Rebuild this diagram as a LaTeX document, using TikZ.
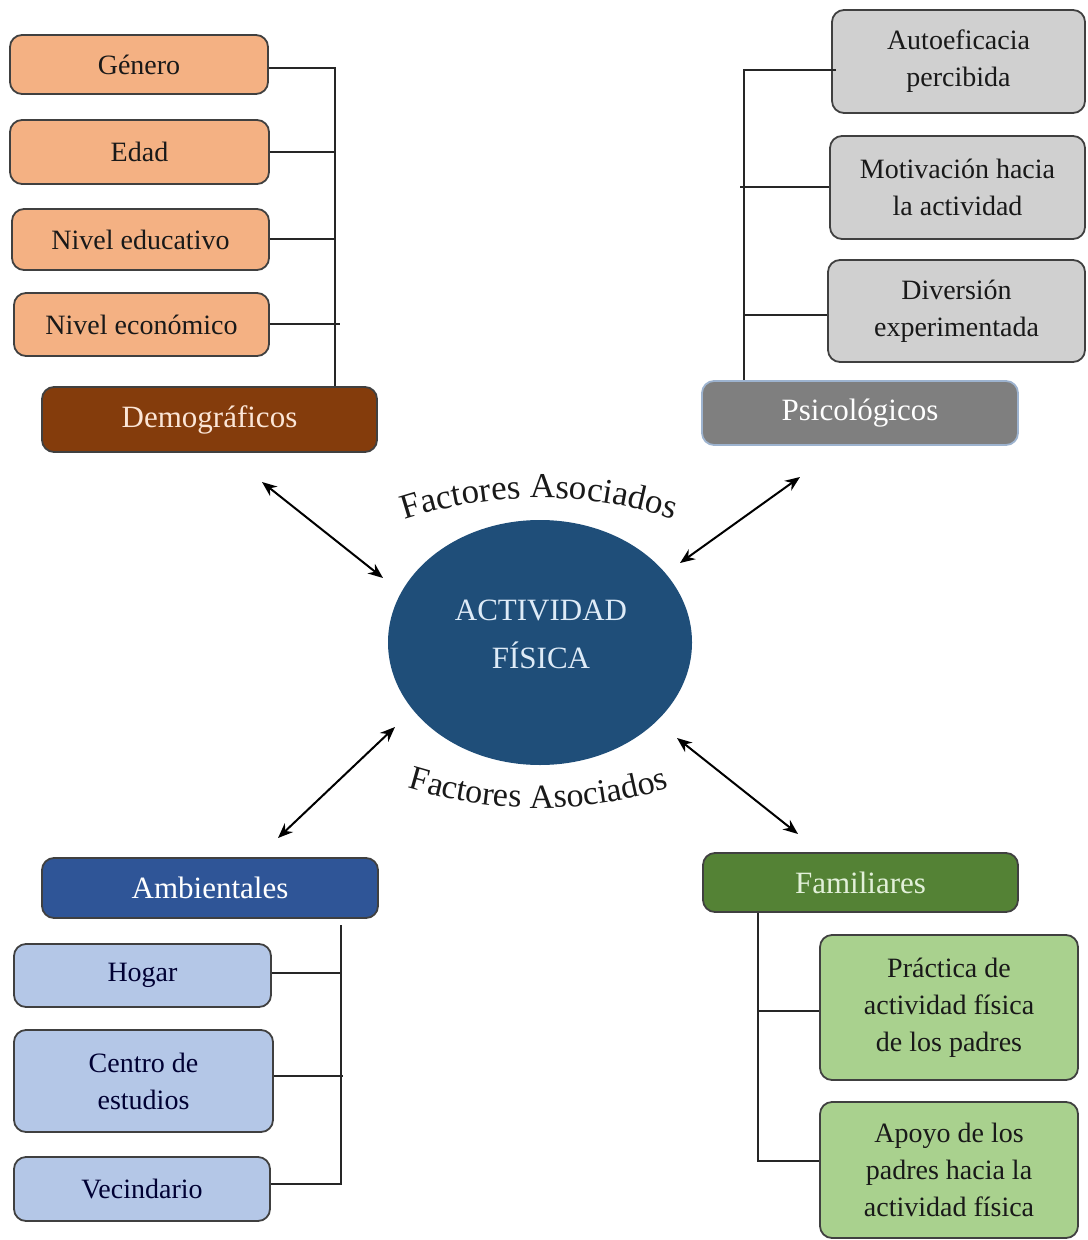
\documentclass[tikz,border=0pt]{standalone}
\usepackage{fontspec}
\setmainfont{Liberation Serif}
\usetikzlibrary{arrows.meta,decorations.text,shapes.geometric}
\definecolor{demoL}{HTML}{F4B183}
\definecolor{demoD}{HTML}{843C0C}
\definecolor{demoT}{HTML}{FBE5D6}
\definecolor{psiL}{HTML}{D0D0D0}
\definecolor{psiD}{HTML}{7F7F7F}
\definecolor{psiB}{HTML}{9DB3CF}
\definecolor{ambD}{HTML}{2F5597}
\definecolor{ambL}{HTML}{B4C7E7}
\definecolor{famD}{HTML}{548235}
\definecolor{famL}{HTML}{A9D18E}
\definecolor{famT}{HTML}{E2F0D9}
\definecolor{core}{HTML}{1F4E79}
\definecolor{coreT}{HTML}{DEEBF7}
\begin{document}
\begin{tikzpicture}[x=0.5pt,y=-0.5pt,
  sz/.style 2 args={minimum width=#1*0.5pt, minimum height=#2*0.5pt},
  box/.style={draw=black!75, line width=0.9pt, rounded corners=6pt, align=center,
    inner sep=0pt, font=\fontsize{14}{18.5}\selectfont, text=black!90},
  head/.style={box, font=\fontsize{15.5}{19}\selectfont},
  link/.style={line width=1pt, draw=black!85},
  rel/.style={line width=1pt, {Stealth[length=7.5pt,width=6pt]}-{Stealth[length=7.5pt,width=6pt]}}
]
\useasboundingbox (0,0) rectangle (1087,1240);

% --- Demographic factors
\node[box, fill=demoL, sz={258}{59}] (gen) at (139,64.5) {Género};
\node[box, fill=demoL, sz={259}{64}] (eda) at (139.5,152) {Edad};
\node[box, fill=demoL, sz={257}{61}] (edu) at (140.5,239.5) {Nivel educativo};
\node[box, fill=demoL, sz={255}{63}] (eco) at (141.5,324.5) {Nivel económico};
\node[head, fill=demoD, text=demoT, sz={335}{65}] (dem) at (209.5,419.5) {Demográficos};

\coordinate (dj) at (335,68);
\draw[link] (gen.east |- dj) -- (dj) -- (dj |- dem.north);
\draw[link] (eda.east) -- (eda.east -| dj);
\draw[link] (edu.east) -- (edu.east -| dj);
\draw[link] (eco.east) -- ([xshift=2.5pt]eco.east -| dj);

% --- Psychological factors
\node[box, fill=psiL, sz={253}{103}] (auto) at (958.5,61.5) {Autoeficacia\\percibida};
\node[box, fill=psiL, sz={255}{103}] (mot) at (957.5,187.5) {Motivación hacia\\la actividad};
\node[box, fill=psiL, sz={257}{102}] (div) at (956.5,311) {Diversión\\experimentada};
\node[head, fill=psiD, draw=psiB, text=white!95, sz={316}{64}] (psi) at (860,413) {Psicológicos};

\coordinate (pj) at (744,70);
\draw[link] ([xshift=2.5pt]auto.west |- pj) -- (pj) -- (pj |- psi.north);
\draw[link] (mot.west) -- ([xshift=-2pt]mot.west -| pj);
\draw[link] ([yshift=-2pt]div.west) -- ([yshift=-2pt]div.west -| pj);

% --- Central concept
\node[ellipse, fill=core, sz={304}{245}] (af) at (540,642.5) {};
\node[align=center, text=coreT, font=\fontsize{15.5}{24}\selectfont] (aft) at (541,634) {ACTIVIDAD\\FÍSICA};

\path[decorate, decoration={text along path, text align=center,
  text={|\fontsize{17.5}{20}\selectfont\color{black!90}|Factores Asociados}}]
  (398,522) .. controls (490,490) and (590,490) .. (680,522);
\path[decorate, decoration={text along path, text align=center,
  text={|\fontsize{17}{20}\selectfont\color{black!90}|Factores Asociados}}]
  (405,787) .. controls (495,815) and (585,815) .. (672,787);

% --- Relation arrows
\coordinate (a1) at (262,482); \coordinate (b1) at (383,578);
\coordinate (a2) at (800,477); \coordinate (b2) at (680,563);
\coordinate (a3) at (278,838); \coordinate (b3) at (395,727);
\coordinate (a4) at (798,834); \coordinate (b4) at (677,738);
\draw[rel] (a1) -- (b1);
\draw[rel] (a2) -- (b2);
\draw[rel] (a3) -- (b3);
\draw[rel] (a4) -- (b4);

% --- Environmental factors
\node[head, fill=ambD, text=white, sz={336}{60}] (amb) at (210,888) {Ambientales};
\node[box, fill=ambL, text=black!80!blue, sz={257}{63}] (hog) at (142.5,975.5) {Hogar};
\node[box, fill=ambL, text=black!80!blue, sz={259}{102}] (cen) at (143.5,1081) {Centro de\\estudios};
\node[box, fill=ambL, text=black!80!blue, sz={256}{64}] (vec) at (142,1189) {Vecindario};

\coordinate (aj) at (341,925);
\draw[link] (aj) -- ([yshift=2.5pt]aj |- vec.east) -- ([yshift=2.5pt]vec.east);
\draw[link] ([yshift=1.5pt]hog.east) -- ([yshift=1.5pt]hog.east -| aj);
\draw[link] ([yshift=2.5pt]cen.east) -- ([xshift=1pt,yshift=2.5pt]cen.east -| aj);

% --- Family factors
\node[head, fill=famD, text=famT, sz={315}{59}] (fam) at (860.5,882.5) {Familiares};
\node[box, fill=famL, sz={258}{145}] (pra) at (949,1007.5) {Práctica de\\actividad física\\de los padres};
\node[box, fill=famL, sz={258}{136}] (apo) at (949,1170) {Apoyo de los\\padres hacia la\\actividad física};

\coordinate (fj) at (758,1161);
\draw[link] (fam.south -| fj) -- (fj) -- (fj -| apo.west);
\draw[link] ([yshift=-1.5pt]pra.west) -- ([yshift=-1.5pt]pra.west -| fj);
\end{tikzpicture}
\end{document}
